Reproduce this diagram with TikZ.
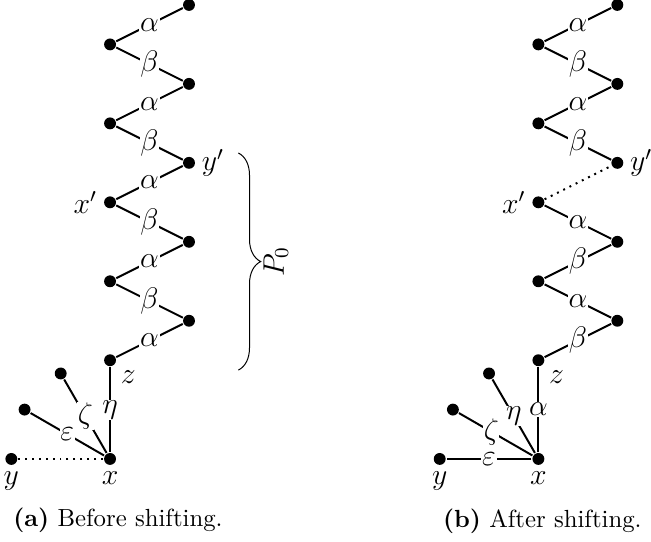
\documentclass[tikz,border=0pt]{standalone}
\usepackage{amsmath}
\usepackage{tikz}
\usetikzlibrary{decorations.pathreplacing}

\tikzset{
  vtx/.style={circle,fill=black,inner sep=0pt,minimum size=4.8pt},
  lbl/.style={fill=white,inner sep=0.3pt,font=\large},
  every label/.style={font=\large,inner sep=2pt},
}

\begin{document}
\begin{tikzpicture}[x=1.4cm,y=1.4cm,thick]
        \useasboundingbox (-1.115,-0.841) rectangle (5.481,4.65);
        % before shifting
        \node[vtx,label=below:$x$] (xa) at (0,0) {};
        \node[vtx,label=below:$y$] (ya) at (180:1) {};
        \node[vtx] (ea) at (150:1) {};
        \node[vtx] (fa) at (120:1) {};
        \node[vtx,label=below right:$z$] (za) at (90:1) {};
        \node[vtx] (a1) at (0.8,1.4) {};
        \node[vtx] (a2) at (0,1.8) {};
        \node[vtx] (a3) at (0.8,2.2) {};
        \node[vtx,label=left:$x'$] (a4) at (0,2.6) {};
        \node[vtx,label=right:$y'$] (a5) at (0.8,3.0) {};
        \node[vtx] (a6) at (0,3.4) {};
        \node[vtx] (a7) at (0.8,3.8) {};
        \node[vtx] (a8) at (0,4.2) {};
        \node[vtx] (a9) at (0.8,4.6) {};
        \draw[dotted] (xa) -- (ya);
        \draw (xa) -- node[lbl] {$\varepsilon$} (ea);
        \draw (xa) -- node[lbl] {$\zeta$} (fa);
        \draw (xa) -- node[lbl] {$\eta$} (za);
        \draw (za) -- node[lbl] {$\alpha$} (a1);
        \draw (a1) -- node[lbl] {$\beta$} (a2);
        \draw (a2) -- node[lbl] {$\alpha$} (a3);
        \draw (a3) -- node[lbl] {$\beta$} (a4);
        \draw (a4) -- node[lbl] {$\alpha$} (a5);
        \draw (a5) -- node[lbl] {$\beta$} (a6);
        \draw (a6) -- node[lbl] {$\alpha$} (a7);
        \draw (a7) -- node[lbl] {$\beta$} (a8);
        \draw (a8) -- node[lbl] {$\alpha$} (a9);
        \coordinate (bt) at (1.3,3.1);
        \coordinate (bb) at (1.3,0.9);
        \draw[thin,decorate,decoration={brace,amplitude=9pt}] (bt) -- (bb);
        \node[rotate=90,font=\large] (p0) at (1.68,2.0) {$P_0$};
        \node (capa) at (0.08,-0.62) {\textbf{(a)} Before shifting.};

        % after shifting
        \begin{scope}[shift={(4.34,0)}]
        \node[vtx,label=below:$x$] (xb) at (0,0) {};
        \node[vtx,label=below:$y$] (yb) at (180:1) {};
        \node[vtx] (eb) at (150:1) {};
        \node[vtx] (fb) at (120:1) {};
        \node[vtx,label=below right:$z$] (zb) at (90:1) {};
        \node[vtx] (b1) at (0.8,1.4) {};
        \node[vtx] (b2) at (0,1.8) {};
        \node[vtx] (b3) at (0.8,2.2) {};
        \node[vtx,label=left:$x'$] (b4) at (0,2.6) {};
        \node[vtx,label=right:$y'$] (b5) at (0.8,3.0) {};
        \node[vtx] (b6) at (0,3.4) {};
        \node[vtx] (b7) at (0.8,3.8) {};
        \node[vtx] (b8) at (0,4.2) {};
        \node[vtx] (b9) at (0.8,4.6) {};
        \draw (xb) -- node[lbl] {$\varepsilon$} (yb);
        \draw (xb) -- node[lbl,pos=0.56] {$\zeta$} (eb);
        \draw (xb) -- node[lbl] {$\eta$} (fb);
        \draw (xb) -- node[lbl] {$\alpha$} (zb);
        \draw (zb) -- node[lbl] {$\beta$} (b1);
        \draw (b1) -- node[lbl] {$\alpha$} (b2);
        \draw (b2) -- node[lbl] {$\beta$} (b3);
        \draw (b3) -- node[lbl] {$\alpha$} (b4);
        \draw[dotted] (b4) -- (b5);
        \draw (b5) -- node[lbl] {$\beta$} (b6);
        \draw (b6) -- node[lbl] {$\alpha$} (b7);
        \draw (b7) -- node[lbl] {$\beta$} (b8);
        \draw (b8) -- node[lbl] {$\alpha$} (b9);
        \end{scope}
        \node (capb) at (4.38,-0.63) {\textbf{(b)} After shifting.};
\end{tikzpicture}
\end{document}
